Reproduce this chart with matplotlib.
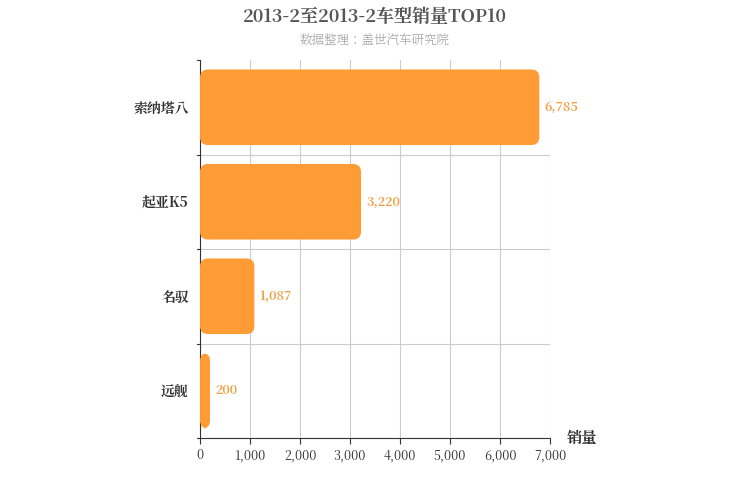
import matplotlib.pyplot as plt
from matplotlib import font_manager
from matplotlib.patches import FancyBboxPatch

# pick whatever CJK family is actually registered
cjk = [f.name for f in font_manager.fontManager.ttflist if 'CJK' in f.name]
pref = [n for n in cjk if 'SC' in n] or cjk
plt.rcParams['font.family'] = (pref[:1] if pref else []) + ['DejaVu Sans']

# Data
models = ['索纳塔八', '起亚K5', '名驭', '远舰']
sales = [6785, 3220, 1087, 200]
xticks = [0, 1000, 2000, 3000, 4000, 5000, 6000, 7000]

bar_color = '#ff9c35'

fig = plt.figure(figsize=(7.5, 5), dpi=100)
ax = fig.add_axes([0.2667, 0.124, 0.4667, 0.756])
ax.set_xlim(0, 7000)
ax.set_ylim(len(models), 0)

# x range 7000 over 350px, y range 4 over 378px
aspect = (4 / 378) / (7000 / 350)
for i, (m, v) in enumerate(zip(models, sales)):
    y0 = i + 0.1
    box = FancyBboxPatch((0, y0), v, 0.8,
                         boxstyle='round,pad=0,rounding_size=160',
                         mutation_aspect=aspect,
                         facecolor=bar_color, edgecolor='none', zorder=3)
    ax.add_patch(box)
    ax.text(v + 100, i + 0.5, f'{v:,}', va='center', ha='left',
            fontsize=9, color='#f0a040', fontweight='bold')

ax.set_xticks(xticks)
ax.set_xticklabels([f'{t:,}' for t in xticks], fontsize=9, color='#333')
ax.set_yticks([i + 0.5 for i in range(len(models))])
ax.set_yticklabels(models, fontsize=10, fontweight='bold', color='#333')
ax.tick_params(axis='y', length=0, pad=8)
ax.tick_params(axis='x', length=4, color='#333')

# separators and left ticks
for b in range(len(models) + 1):
    if 0 < b < len(models):
        ax.axhline(b, color='#cccccc', lw=0.8, zorder=1)
    ax.plot([-60, 0], [b, b], color='#333', lw=0.8, clip_on=False)
ax.grid(axis='x', color='#cccccc', lw=0.8, zorder=1)

for s in ['top', 'right']:
    ax.spines[s].set_visible(False)
ax.spines['bottom'].set_color('#333')
ax.spines['left'].set_color('#333')

fig.text(0.5, 0.965, '2013-2至2013-2车型销量TOP10', ha='center', va='center',
         fontsize=13, fontweight='bold', color='#555')
fig.text(0.5, 0.918, '数据整理：盖世汽车研究院', ha='center', va='center',
         fontsize=9, color='#aaaaaa')
fig.text(0.755, 0.124, '销量', ha='left', va='center',
         fontsize=11, fontweight='bold', color='#333')

fig.savefig('out.png', dpi=100)
